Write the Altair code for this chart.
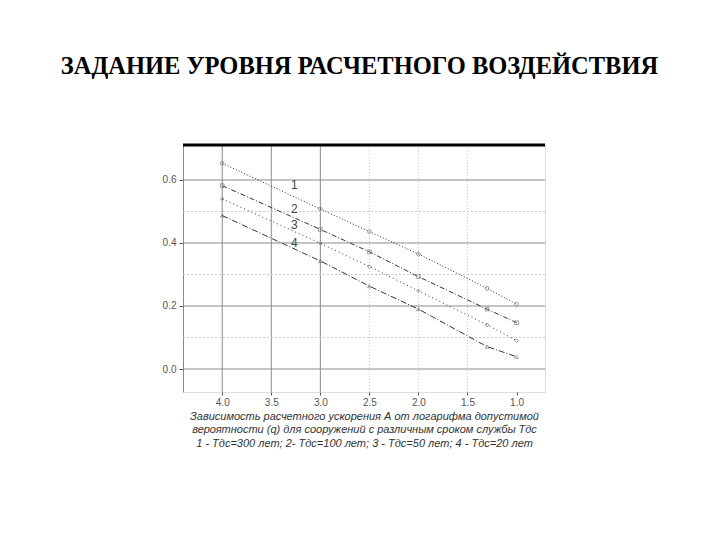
import altair as alt
import pandas as pd

# -lg q values (x) and design acceleration A (y) for each service life
lgq = [4.0, 3.0, 2.5, 2.0, 1.3, 1.0]
a1 = [0.653, 0.508, 0.436, 0.365, 0.256, 0.206]
a2 = [0.582, 0.443, 0.372, 0.293, 0.190, 0.147]
a3 = [0.540, 0.399, 0.325, 0.248, 0.140, 0.090]
a4 = [0.487, 0.343, 0.263, 0.190, 0.071, 0.039]
series_names = ["1", "2", "3", "4"]

label_x = [3.3, 3.3, 3.3, 3.3]
label_y = [0.584, 0.508, 0.457, 0.400]

x_ticks = [4.0, 3.5, 3.0, 2.5, 2.0, 1.5, 1.0]
y_ticks = [0.0, 0.2, 0.4, 0.6]
vgrid_solid = [4.0, 3.5, 3.0]
vgrid_dot = [2.5, 2.0, 1.5]
hgrid_solid = [0.0, 0.2, 0.4, 0.6]
hgrid_dot = [0.1, 0.3, 0.5]

title_text = "ЗАДАНИЕ УРОВНЯ РАСЧЕТНОГО ВОЗДЕЙСТВИЯ"
caption = [
    "Зависимость расчетного ускорения А от логарифма допустимой",
    "вероятности (q) для сооружений с различным сроком службы Tдс",
    "1 - Tдс=300 лет; 2- Tдс=100 лет; 3 - Tдс=50 лет; 4 - Tдс=20 лет",
]

rows = []
for name, vals in zip(series_names, [a1, a2, a3, a4]):
    for xv, yv in zip(lgq, vals):
        rows.append({"s": name, "x": xv, "y": yv})
df = pd.DataFrame(rows)

xs = alt.Scale(domain=[0.71, 4.40], reverse=True, nice=False, zero=False)
ys = alt.Scale(domain=[-0.073, 0.711], nice=False, zero=False)

xaxis = alt.Axis(values=x_ticks, format=".1f", grid=False, domain=False,
                 tickColor="#555", tickSize=3, labelColor="#555",
                 labelFont="Liberation Sans", labelFontSize=10, labelPadding=2,
                 title=caption, titleFont="Liberation Sans", titleFontStyle="italic",
                 titleFontWeight="normal", titleFontSize=11, titleColor="#333",
                 titlePadding=3, titleLineHeight=13.5)
yaxis = alt.Axis(values=y_ticks, format=".1f", grid=False, domain=True,
                 domainColor="#888", tickColor="#555", tickSize=4,
                 labelColor="#555", labelFont="Liberation Sans", labelFontSize=10,
                 labelPadding=3, title=None)

base = alt.Chart(df)

vs = alt.Chart(pd.DataFrame({"x": vgrid_solid})).mark_rule(color="#8a8a8a", strokeWidth=1).encode(
    x=alt.X("x:Q", scale=xs, axis=xaxis))
vd = alt.Chart(pd.DataFrame({"x": vgrid_dot})).mark_rule(color="#c8c8c8", strokeWidth=1, strokeDash=[1, 2]).encode(
    x=alt.X("x:Q", scale=xs))
hs = alt.Chart(pd.DataFrame({"y": hgrid_solid})).mark_rule(color="#8a8a8a", strokeWidth=1).encode(
    y=alt.Y("y:Q", scale=ys, axis=yaxis))
hd = alt.Chart(pd.DataFrame({"y": hgrid_dot})).mark_rule(color="#c8c8c8", strokeWidth=1, strokeDash=[2, 2]).encode(
    y=alt.Y("y:Q", scale=ys))

top = alt.Chart(pd.DataFrame({"y": [0.711]})).mark_rule(color="black", strokeWidth=3).encode(
    y=alt.Y("y:Q", scale=ys))

lines = base.mark_line(color="#333", strokeWidth=1).encode(
    x=alt.X("x:Q", scale=xs),
    y=alt.Y("y:Q", scale=ys),
    strokeDash=alt.StrokeDash("s:N", legend=None,
                              scale=alt.Scale(domain=series_names,
                                              range=[[1, 2], [5, 2, 1, 2], [1, 3], [6, 2, 1, 2]])),
    detail="s:N",
)
points = base.mark_point(color="#777", size=14, strokeWidth=1).encode(
    x=alt.X("x:Q", scale=xs),
    y=alt.Y("y:Q", scale=ys),
    shape=alt.Shape("s:N", legend=None,
                    scale=alt.Scale(domain=series_names,
                                    range=["circle", "square", "diamond", "triangle-up"])),
)

lab = alt.Chart(pd.DataFrame({"x": label_x, "y": label_y, "t": series_names})).mark_text(
    font="Liberation Sans", fontSize=12, color="#444", align="left", baseline="middle").encode(
    x=alt.X("x:Q", scale=xs), y=alt.Y("y:Q", scale=ys), text="t:N")

chart = alt.layer(vs, vd, hs, hd, top, lines, points, lab).properties(
    width=362, height=247,
    autosize=alt.AutoSizeParams(type="none"),
    padding={"left": 175, "top": 137, "right": 167, "bottom": 132},
    title=alt.TitleParams(title_text, font="Liberation Serif", fontSize=24.5,
                          fontWeight="bold", color="black", anchor="middle",
                          baseline="alphabetic", offset=45, dx=-4.5),
).configure_view(stroke=None).configure(background="white")

chart.save("out.html", embed_options={"renderer": "svg", "actions": False})
